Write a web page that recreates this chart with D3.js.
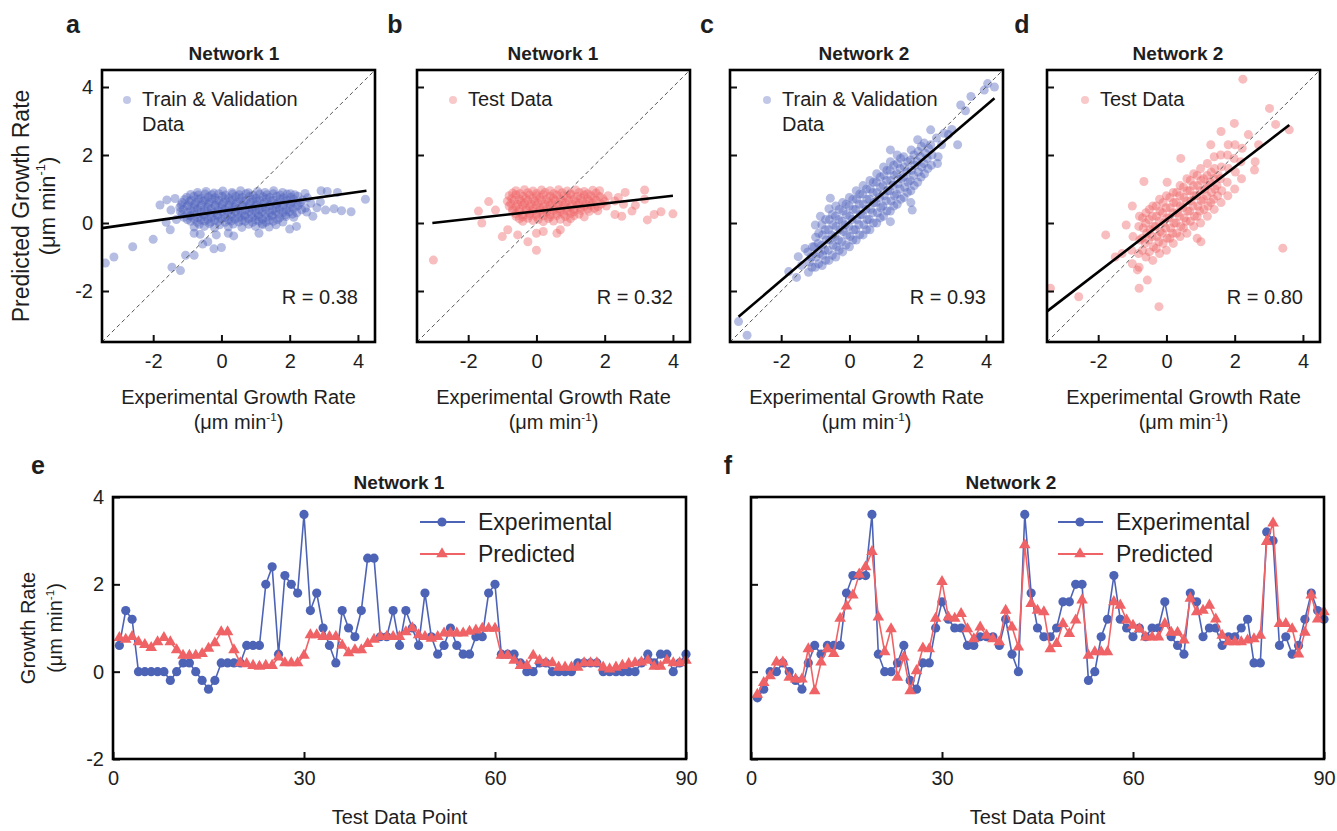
<!DOCTYPE html>
<html>
<head>
<meta charset="utf-8">
<script src="https://cdn.jsdelivr.net/npm/d3@7"></script>
<style>
  body { margin: 0; background: #fff; }
  text { font-family: "Liberation Sans", Arial, sans-serif; fill: #1e1e1e; }
</style>
</head>
<body>
<svg id="fig" width="1337" height="831"></svg>
<script>
// ---- data ----
var growthTicks = [-2, 0, 2, 4];
var pointTicks = [0, 30, 60, 90];
var scatterTitles = ["Network 1", "Network 1", "Network 2", "Network 2"];
var scatterLetters = ["a", "b", "c", "d"];
var legendLines = [["Train & Validation", "Data"], ["Test Data"], ["Train & Validation", "Data"], ["Test Data"]];
var rLabels = ["R = 0.38", "R = 0.32", "R = 0.93", "R = 0.80"];
// fitted line end points [x0, y0, x1, y1]
var fitLines = [[-3.5, -0.15, 4.25, 0.95], [-3.05, 0.0, 4.0, 0.8], [-3.25, -2.76, 4.25, 3.67], [-3.5, -2.6, 3.6, 2.88]];

// panel a: Network 1, train & validation
var trainN1 = [
  [-0.7,0.9],[-0.45,0.93],[-0.22,0.88],[0.04,0.94],[0.31,0.9],[0.56,0.95],[0.79,0.89],[1.06,0.93],[1.28,0.9],[1.53,0.95],[1.79,0.9],[2.02,0.86],
  [-1.02,0.76],[-0.81,0.79],[-0.6,0.73],[-0.38,0.77],[-0.19,0.74],[0.02,0.79],[0.21,0.74],[0.42,0.78],[0.6,0.75],[0.83,0.79],[1.01,0.73],[1.22,0.77],[1.41,0.75],[1.62,0.79],[1.81,0.74],[2.03,0.76],[2.24,0.79],[2.52,0.74],
  [-1.15,0.6],[-0.94,0.63],[-0.76,0.6],[-0.53,0.64],[-0.36,0.61],[-0.14,0.64],[0.06,0.6],[0.26,0.64],[0.44,0.61],[0.66,0.63],[0.86,0.6],[1.04,0.64],[1.26,0.61],[1.46,0.63],[1.64,0.59],[1.86,0.64],[2.06,0.61],[2.31,0.6],[2.62,0.58],
  [-1.22,0.46],[-1.01,0.49],[-0.79,0.45],[-0.61,0.48],[-0.4,0.46],[-0.18,0.5],[0.01,0.45],[0.22,0.48],[0.39,0.46],[0.61,0.49],[0.81,0.45],[0.99,0.48],[1.21,0.46],[1.39,0.49],[1.61,0.45],[1.79,0.48],[2.01,0.46],[2.22,0.49],[2.46,0.44],
  [-1.2,0.33],[-0.99,0.3],[-0.81,0.34],[-0.59,0.31],[-0.41,0.33],[-0.21,0.3],[0.02,0.34],[0.19,0.31],[0.41,0.33],[0.59,0.29],[0.82,0.34],[1.01,0.31],[1.19,0.33],[1.42,0.3],[1.59,0.34],[1.81,0.31],[1.99,0.33],[2.21,0.3],[2.5,0.32],
  [-1.1,0.17],[-0.91,0.2],[-0.69,0.16],[-0.51,0.19],[-0.29,0.17],[-0.11,0.2],[0.11,0.16],[0.29,0.19],[0.51,0.17],[0.69,0.2],[0.91,0.16],[1.09,0.19],[1.31,0.17],[1.49,0.2],[1.71,0.16],[1.89,0.19],[2.12,0.17],
  [-0.9,0.05],[-0.71,0.02],[-0.49,0.06],[-0.31,0.03],[-0.09,0.05],[0.11,0.02],[0.29,0.06],[0.51,0.03],[0.69,0.05],[0.91,0.02],[1.09,0.06],[1.31,0.03],[1.52,0.05],[1.8,0.03],
  [-0.9,0.84],[-0.68,0.82],[-0.48,0.85],[-0.28,0.83],[-0.08,0.86],[0.12,0.82],[0.33,0.85],[0.52,0.83],[0.72,0.86],[0.93,0.82],[1.12,0.85],[1.33,0.83],[1.52,0.86],[1.72,0.82],[1.92,0.85],[2.15,0.83],
  [-1.08,0.69],[-0.88,0.67],[-0.68,0.7],[-0.48,0.68],[-0.28,0.71],[-0.08,0.67],[0.12,0.7],[0.32,0.68],[0.52,0.71],[0.72,0.67],[0.92,0.7],[1.12,0.68],[1.32,0.71],[1.52,0.67],[1.72,0.7],[1.92,0.68],[2.12,0.7],[2.38,0.68],
  [-1.18,0.54],[-0.98,0.52],[-0.78,0.55],[-0.58,0.53],[-0.38,0.56],[-0.18,0.52],[0.02,0.55],[0.22,0.53],[0.42,0.56],[0.62,0.52],[0.82,0.55],[1.02,0.53],[1.22,0.56],[1.42,0.52],[1.62,0.55],[1.82,0.53],[2.02,0.56],[2.25,0.53],
  [-1.12,0.4],[-0.9,0.38],[-0.7,0.41],[-0.5,0.39],[-0.3,0.42],[-0.1,0.38],[0.1,0.41],[0.3,0.39],[0.5,0.42],[0.7,0.38],[0.9,0.41],[1.1,0.39],[1.3,0.42],[1.5,0.38],[1.7,0.41],[1.9,0.39],[2.1,0.42],[2.35,0.39],
  [-1.15,0.25],[-0.92,0.23],[-0.72,0.26],[-0.52,0.24],[-0.32,0.27],[-0.12,0.23],[0.08,0.26],[0.28,0.24],[0.48,0.27],[0.68,0.23],[0.88,0.26],[1.08,0.24],[1.28,0.27],[1.48,0.23],[1.68,0.26],[1.88,0.24],[2.08,0.26],
  [-1.0,0.1],[-0.8,0.12],[-0.6,0.09],[-0.4,0.11],[-0.2,0.08],[0.0,0.12],[0.2,0.09],[0.4,0.11],[0.6,0.08],[0.8,0.12],[1.0,0.09],[1.2,0.11],[1.4,0.08],[1.65,0.1],
  [-0.65,-0.04],[-0.35,-0.02],[-0.05,-0.05],[0.35,-0.03],[0.8,-0.04],[1.2,-0.02],[1.6,-0.05],
  [-0.8,-0.12],[-0.5,-0.1],[-0.2,-0.14],[0.2,-0.11],[0.6,-0.13],[1.0,-0.1],[1.4,-0.12],[2.0,-0.18],
  [-0.8,-0.3],[-0.62,-0.33],[-0.15,-0.35],[0.2,-0.3],[0.36,-0.38],[1.1,-0.3],[-0.4,-0.55],[0.0,-0.72],[-0.22,-0.76],[-0.55,-0.62],
  [-3.4,-1.18],[-3.15,-1.0],[-2.6,-0.7],[-2.0,-0.48],[-1.45,-1.3],[-1.2,-1.4],[-1.05,-0.95],[-0.8,-0.95],[-1.5,-0.2],[-1.62,0.02],
  [-1.8,0.53],[-1.6,0.68],[-1.48,0.38],[-1.32,0.1],[-1.36,0.72],[2.45,0.87],[2.92,0.95],[3.1,0.93],[3.4,0.9],[2.8,0.45],
  [3.05,0.38],[3.3,0.42],[3.52,0.36],[3.8,0.33],[4.22,0.7],[2.68,0.2],[2.9,0.62],[1.2,-0.05],[2.2,-0.1]
];

// panel b: Network 1, test
var testN1 = [
  [-0.6,0.95],[-0.35,0.98],[-0.1,0.94],[0.15,0.97],[0.4,0.95],[0.65,0.98],[0.9,0.94],[1.15,0.97],[1.4,0.93],[1.65,0.96],
  [-0.8,0.8],[-0.6,0.83],[-0.4,0.79],[-0.2,0.82],[0.0,0.8],[0.2,0.83],[0.4,0.79],[0.6,0.82],[0.8,0.8],[1.0,0.83],[1.2,0.79],[1.4,0.82],[1.6,0.8],[1.85,0.78],[2.1,0.8],
  [-0.85,0.64],[-0.65,0.67],[-0.45,0.63],[-0.25,0.66],[-0.05,0.64],[0.15,0.67],[0.35,0.63],[0.55,0.66],[0.75,0.64],[0.95,0.67],[1.15,0.63],[1.35,0.66],[1.55,0.64],[1.75,0.67],[2.0,0.63],[2.3,0.65],
  [-0.8,0.5],[-0.6,0.48],[-0.4,0.52],[-0.2,0.49],[0.0,0.51],[0.2,0.48],[0.4,0.52],[0.6,0.49],[0.8,0.51],[1.0,0.48],[1.2,0.52],[1.4,0.49],[1.6,0.51],[1.8,0.48],[2.05,0.5],
  [-0.7,0.35],[-0.5,0.33],[-0.3,0.37],[-0.1,0.34],[0.1,0.36],[0.3,0.33],[0.5,0.37],[0.7,0.34],[0.9,0.36],[1.1,0.33],[1.3,0.37],[1.55,0.34],[1.8,0.36],
  [-0.6,0.2],[-0.4,0.18],[-0.2,0.22],[0.0,0.19],[0.2,0.21],[0.4,0.18],[0.6,0.22],[0.85,0.19],[1.1,0.21],[1.4,0.18],
  [-0.4,0.05],[-0.1,0.07],[0.2,0.04],[0.5,0.06],[0.9,0.03],
  [-0.7,0.88],[-0.48,0.86],[-0.25,0.89],[0.0,0.87],[0.25,0.9],[0.5,0.86],[0.75,0.89],[1.0,0.87],[1.25,0.9],[1.5,0.86],[1.75,0.88],
  [-0.72,0.72],[-0.5,0.7],[-0.3,0.73],[-0.1,0.71],[0.1,0.74],[0.3,0.7],[0.5,0.73],[0.7,0.71],[0.9,0.74],[1.1,0.7],[1.3,0.73],[1.5,0.71],[1.7,0.73],[1.95,0.71],
  [-0.75,0.57],[-0.55,0.55],[-0.35,0.58],[-0.15,0.56],[0.05,0.59],[0.25,0.55],[0.45,0.58],[0.65,0.56],[0.85,0.59],[1.05,0.55],[1.25,0.58],[1.45,0.56],[1.65,0.58],[1.9,0.56],
  [-0.7,0.42],[-0.5,0.4],[-0.3,0.43],[-0.1,0.41],[0.1,0.44],[0.3,0.4],[0.5,0.43],[0.7,0.41],[0.9,0.44],[1.1,0.4],[1.3,0.43],[1.5,0.41],[1.7,0.43],
  [-0.6,0.27],[-0.4,0.25],[-0.2,0.28],[0.0,0.26],[0.2,0.29],[0.4,0.25],[0.6,0.28],[0.8,0.26],[1.0,0.28],[1.25,0.26],
  [-0.5,0.12],[-0.25,0.14],[0.05,0.11],[0.35,0.13],[0.7,0.11],[1.0,0.13],
  [-3.02,-1.09],[-1.6,0.0],[-1.4,0.63],[-1.2,0.38],[-1.0,-0.4],[-0.84,-0.2],[-0.55,-0.35],[-0.25,-0.55],[0.0,-0.8],[0.0,-0.3],
  [0.6,-0.3],[0.7,-0.2],[0.2,-0.25],[2.4,0.75],[2.55,0.55],[2.8,0.35],[2.9,0.52],[3.17,0.97],[3.17,0.7],[3.25,0.09],
  [3.45,0.25],[3.65,0.33],[4.0,0.27],[2.3,0.25],[2.5,0.2],[-1.7,0.35],[1.85,0.95],[2.6,0.9]
];

// panel c: Network 2, train & validation
var trainN2 = [
  [-1.2,-1.45],[-1.17,-1.15],[-1.22,-0.85],
  [-1.0,-1.3],[-0.98,-1.0],[-1.03,-0.7],[-0.99,-0.42],
  [-0.8,-1.25],[-0.78,-0.95],[-0.82,-0.66],[-0.79,-0.35],[-0.81,-0.05],
  [-0.6,-1.1],[-0.62,-0.8],[-0.58,-0.5],[-0.61,-0.2],[-0.59,0.1],[-0.6,0.42],
  [-0.4,-1.0],[-0.38,-0.7],[-0.42,-0.4],[-0.39,-0.1],[-0.41,0.2],[-0.4,0.5],
  [-0.2,-0.85],[-0.22,-0.55],[-0.18,-0.25],[-0.21,0.05],[-0.19,0.35],[-0.2,0.6],
  [0.0,-0.7],[0.02,-0.4],[-0.02,-0.1],[0.01,0.2],[-0.01,0.5],[0.0,0.75],
  [0.2,-0.5],[0.18,-0.2],[0.22,0.1],[0.19,0.4],[0.21,0.7],[0.2,0.95],
  [0.4,-0.35],[0.42,-0.05],[0.38,0.25],[0.41,0.55],[0.39,0.85],[0.4,1.1],
  [0.6,-0.2],[0.58,0.1],[0.62,0.4],[0.59,0.7],[0.61,1.0],[0.6,1.25],
  [0.8,0.0],[0.82,0.3],[0.78,0.6],[0.81,0.9],[0.79,1.2],[0.8,1.45],
  [1.0,0.2],[0.98,0.5],[1.02,0.8],[0.99,1.1],[1.01,1.4],[1.0,1.65],
  [1.2,0.35],[1.22,0.65],[1.18,0.95],[1.21,1.25],[1.19,1.55],[1.2,1.8],
  [1.4,0.55],[1.38,0.85],[1.42,1.15],[1.39,1.45],[1.41,1.75],[1.4,2.0],
  [1.6,0.75],[1.62,1.05],[1.58,1.35],[1.61,1.65],[1.59,1.95],
  [1.8,0.95],[1.78,1.25],[1.82,1.55],[1.79,1.85],[1.81,2.15],
  [2.0,1.2],[2.02,1.5],[1.98,1.8],[2.01,2.1],
  [2.2,1.45],[2.18,1.75],[2.22,2.05],[2.19,2.35],
  [2.4,1.7],[2.42,2.0],[2.38,2.3],
  [-1.1,-1.3],[-1.12,-1.0],[-1.08,-0.7],
  [-0.9,-1.2],[-0.88,-0.9],[-0.92,-0.6],[-0.9,-0.3],
  [-0.7,-1.1],[-0.72,-0.8],[-0.68,-0.5],[-0.71,-0.2],[-0.7,0.1],
  [-0.5,-0.95],[-0.48,-0.65],[-0.52,-0.35],[-0.49,-0.05],[-0.5,0.25],
  [-0.3,-0.8],[-0.32,-0.5],[-0.28,-0.2],[-0.31,0.1],[-0.3,0.4],
  [-0.1,-0.65],[-0.08,-0.35],[-0.12,-0.05],[-0.09,0.25],[-0.1,0.55],
  [0.1,-0.5],[0.12,-0.2],[0.08,0.1],[0.11,0.4],[0.1,0.7],
  [0.3,-0.35],[0.28,-0.05],[0.32,0.25],[0.29,0.55],[0.3,0.85],
  [0.5,-0.2],[0.52,0.1],[0.48,0.4],[0.51,0.7],[0.5,1.0],
  [0.7,0.0],[0.68,0.3],[0.72,0.6],[0.69,0.9],[0.7,1.2],
  [0.9,0.15],[0.92,0.45],[0.88,0.75],[0.91,1.05],[0.9,1.35],
  [1.1,0.35],[1.08,0.65],[1.12,0.95],[1.09,1.25],[1.1,1.55],
  [1.3,0.5],[1.32,0.8],[1.28,1.1],[1.31,1.4],[1.3,1.7],
  [1.5,0.7],[1.48,1.0],[1.52,1.3],[1.49,1.6],[1.5,1.9],
  [1.7,0.9],[1.72,1.2],[1.68,1.5],[1.71,1.8],
  [1.9,1.1],[1.88,1.4],[1.92,1.7],[1.89,2.0],
  [2.1,1.35],[2.12,1.65],[2.08,1.95],[2.11,2.25],
  [2.3,1.6],[2.28,1.9],[2.32,2.2],
  [-3.25,-2.9],[-3.0,-3.3],[-1.78,-1.43],[-1.5,-0.99],[-1.55,-1.6],[-1.4,-1.25],[-1.3,-0.75],[-1.0,-0.06],[-0.56,0.73],[-0.85,0.2],
  [1.2,0.04],[1.84,0.38],[1.8,0.6],[2.58,1.75],[2.6,1.95],[2.77,2.64],[2.38,2.74],[3.17,2.3],[3.26,3.47],[3.56,3.72],
  [3.95,3.91],[4.25,4.0],[4.05,4.1],[1.2,2.15],[2.9,2.6],[3.0,2.75],[2.7,2.3],[3.4,3.3],[2.55,2.5],[2.0,2.45]
];

// panel d: Network 2, test
var testN2 = [
  [-1.0,-1.2],[-1.02,-0.8],[-0.98,-0.4],
  [-0.8,-1.3],[-0.82,-0.9],[-0.78,-0.5],[-0.81,-0.1],[-0.79,0.2],
  [-0.6,-1.0],[-0.62,-0.6],[-0.58,-0.3],[-0.61,0.0],[-0.6,0.3],
  [-0.4,-1.1],[-0.38,-0.7],[-0.42,-0.4],[-0.39,-0.1],[-0.41,0.2],[-0.4,0.5],
  [-0.2,-0.9],[-0.22,-0.55],[-0.18,-0.25],[-0.21,0.05],[-0.19,0.35],[-0.2,0.7],
  [0.0,-0.8],[0.02,-0.45],[-0.02,-0.15],[0.01,0.15],[-0.01,0.45],[0.0,0.8],[0.02,1.2],
  [0.2,-0.6],[0.18,-0.3],[0.22,0.0],[0.19,0.3],[0.21,0.6],[0.2,0.9],
  [0.4,-0.4],[0.42,-0.1],[0.38,0.2],[0.41,0.5],[0.39,0.8],[0.4,1.1],
  [0.6,-0.3],[0.58,0.05],[0.62,0.35],[0.59,0.65],[0.61,0.95],[0.6,1.3],
  [0.8,-0.1],[0.82,0.2],[0.78,0.5],[0.81,0.8],[0.79,1.1],[0.8,1.45],
  [1.0,0.0],[0.98,0.35],[1.02,0.65],[0.99,0.95],[1.01,1.25],[1.0,1.6],
  [1.2,0.2],[1.22,0.5],[1.18,0.8],[1.21,1.1],[1.19,1.4],[1.2,1.75],
  [1.4,0.4],[1.38,0.7],[1.42,1.0],[1.39,1.3],[1.41,1.6],[1.4,1.95],
  [1.6,0.6],[1.62,0.95],[1.58,1.3],[1.61,1.65],[1.59,2.0],
  [1.8,0.8],[1.78,1.2],[1.82,1.6],[1.79,2.0],[1.81,2.3],
  [2.0,1.0],[2.02,1.5],[1.98,1.9],[2.01,2.3],
  [2.2,1.3],[2.18,1.8],[2.22,2.2],
  [-0.7,-0.8],[-0.72,-0.45],[-0.68,-0.15],[-0.7,0.15],
  [-0.5,-0.85],[-0.52,-0.5],[-0.48,-0.2],[-0.51,0.1],[-0.5,0.4],
  [-0.3,-0.75],[-0.28,-0.4],[-0.32,-0.1],[-0.29,0.2],[-0.3,0.5],
  [-0.1,-0.6],[-0.12,-0.3],[-0.08,0.0],[-0.11,0.3],[-0.1,0.6],
  [0.1,-0.45],[0.12,-0.15],[0.08,0.15],[0.11,0.45],[0.1,0.75],
  [0.3,-0.3],[0.28,0.0],[0.32,0.3],[0.29,0.6],[0.3,0.9],
  [0.5,-0.15],[0.52,0.15],[0.48,0.45],[0.51,0.75],[0.5,1.05],
  [0.7,0.05],[0.68,0.35],[0.72,0.65],[0.69,0.95],[0.7,1.25],
  [0.9,0.2],[0.92,0.5],[0.88,0.8],[0.91,1.1],[0.9,1.4],
  [1.1,0.4],[1.08,0.7],[1.12,1.0],[1.09,1.3],
  [1.3,0.6],[1.32,0.9],[1.28,1.2],[1.31,1.5],
  [1.5,0.8],[1.48,1.1],[1.52,1.4],
  [2.24,4.23],[3.02,3.37],[3.6,2.74],[3.41,-0.74],[-3.4,-1.92],[-2.57,-2.17],[-0.22,-2.46],[-0.8,-1.92],[-1.78,-0.35],[-1.18,-0.06],
  [-0.85,-1.38],[-0.56,-1.68],[-1.3,-0.9],[-1.5,-1.0],[2.6,1.8],[2.4,2.6],[2.7,2.3],[3.2,2.9],[1.6,2.69],[1.99,2.93],
  [0.42,1.9],[-0.66,1.22],[-1.0,0.5],[1.01,-0.55],[0.9,-0.45],[2.58,1.56],[1.3,2.3]
];

// panel e/f: test data points 1..90
var expN1 = [0.6,1.4,1.2,0,0,0,0,0,-0.2,0,0.2,0.2,0,-0.2,-0.4,-0.2,0.2,0.2,0.2,0.2,
  0.6,0.6,0.6,2.0,2.4,0.4,2.2,2.0,1.8,3.6,1.4,1.8,1.0,0.6,0.2,1.4,1.0,0.8,1.4,2.6,
  2.6,0.8,0.8,1.4,0.6,1.4,1.0,0.6,1.8,0.8,0.4,0.6,1.0,0.6,0.4,0.4,0.8,0.8,1.8,2.0,
  0.4,0.4,0.4,0.2,0,0,0.2,0.2,0,0,0,0,0.2,0.2,0.2,0.2,0,0,0,0,
  0,0,0.2,0.4,0.2,0.4,0.4,0,0.2,0.4];
var predN1 = [0.78,0.74,0.8,0.68,0.62,0.55,0.68,0.78,0.68,0.5,0.37,0.37,0.37,0.41,0.53,0.66,0.91,0.91,0.5,0.2,
  0.18,0.14,0.12,0.14,0.14,0.33,0.2,0.2,0.2,0.37,0.84,0.84,0.8,0.8,0.8,0.6,0.43,0.5,0.5,0.64,
  0.74,0.8,0.8,0.8,0.8,0.91,1.0,0.84,0.8,0.76,0.8,0.88,0.88,0.88,0.88,0.92,0.95,0.99,0.99,0.99,
  0.37,0.37,0.26,0.14,0.14,0.37,0.26,0.2,0.2,0.1,0.1,0.1,0.1,0.2,0.2,0.2,0.1,0.06,0.1,0.14,
  0.18,0.2,0.22,0.26,0.12,0.12,0.26,0.2,0.2,0.26];
var expN2 = [-0.6,-0.4,0,0,0.2,0,-0.2,-0.4,0.2,0.6,0.4,0.6,0.6,0.6,1.8,2.2,2.2,2.2,3.6,0.4,
  0,0,0.2,0.6,-0.2,-0.4,0.2,0.2,1.0,1.6,1.2,1.0,1.0,0.6,0.6,0.8,0.8,0.8,0.6,1.2,
  0.4,0,3.6,1.8,1.0,0.8,0.8,1.0,1.6,1.6,2.0,2.0,-0.2,0,0.8,1.2,2.2,1.2,1.0,0.8,
  1.0,0.8,1.0,1.0,1.6,0.8,0.6,0.4,1.8,1.6,0.8,1.0,1.0,0.6,0.8,0.8,1.0,1.2,0.2,0.2,
  3.2,3.0,0.6,0.8,0.4,0.6,1.2,1.8,1.4,1.2];
var predN2 = [-0.52,-0.25,-0.1,0.22,0.22,-0.13,-0.17,-0.17,0.52,-0.44,0.22,0.52,0.41,1.22,1.5,1.75,2.23,2.4,2.75,1.25,
  0.45,0.98,-0.13,0.33,-0.44,0.02,0.54,0.52,1.22,2.06,1.25,1.22,1.33,0.98,0.75,1.02,0.83,0.75,0.68,1.4,
  1.02,0.56,2.9,1.56,1.4,1.37,0.52,0.64,1.1,0.87,1.18,1.64,0.37,0.45,0.45,0.45,1.6,1.52,1.18,1.06,
  0.98,0.79,0.79,0.79,1.1,0.9,0.9,0.72,1.68,1.37,1.4,1.52,1.2,0.83,0.68,0.68,0.68,0.72,0.75,0.83,
  2.98,3.4,1.1,1.1,0.98,0.4,0.9,1.75,1.2,1.37];
var seriesNames = ["Experimental", "Predicted"];

// ---- drawing ----
var blue = "#4d63b6", red = "#ef6265";
var dotBlue = "#5467bd", dotRed = "#ee6668";
var svg = d3.select("#fig");
var defs = svg.append("defs");

function unitLabel(t, size) {
  t.append("tspan").text("(\u03bcm min");
  t.append("tspan").attr("dy", -size * 0.42).attr("font-size", size * 0.58).text("-1");
  t.append("tspan").attr("dy", size * 0.42).text(")");
}

function styleAxis(g, fontSize) {
  g.select(".domain").remove();
  g.selectAll(".tick line").attr("stroke", "#111").attr("stroke-width", 2);
  g.selectAll(".tick text").attr("font-size", fontSize).attr("fill", "#1e1e1e")
    .attr("font-family", "'Liberation Sans', Arial, sans-serif");
}

var scatterLeft = [102, 417, 730, 1047];
var scatterData = [trainN1, testN1, trainN2, testN2];
var scatterColor = [dotBlue, dotRed, dotBlue, dotRed];
var titleX = [234, 553, 864, 1178];
var letterX = [73, 395, 707, 1022];
var legendTextX = [142, 468, 782, 1100];

scatterData.forEach(function (pts, i) {
  var left = scatterLeft[i], W = 273, top = 70, H = 272;
  var x = d3.scaleLinear().domain([-3.5, 4.5]).range([left, left + W]);
  var y = d3.scaleLinear().domain([-3.5, 4.5]).range([top + H, top]);
  var g = svg.append("g");

  defs.append("clipPath").attr("id", "clip" + i)
    .append("rect").attr("x", left).attr("y", top).attr("width", W).attr("height", H);

  g.append("g").attr("clip-path", "url(#clip" + i + ")")
    .selectAll("circle").data(pts).join("circle")
    .attr("cx", function (d) { return x(d[0]); })
    .attr("cy", function (d) { return y(d[1]); })
    .attr("r", 4.5)
    .attr("fill", scatterColor[i])
    .attr("fill-opacity", 0.43);

  // y = x reference
  g.append("line")
    .attr("x1", x(-3.5)).attr("y1", y(-3.5)).attr("x2", x(4.5)).attr("y2", y(4.5))
    .attr("stroke", "#555").attr("stroke-width", 1).attr("stroke-dasharray", "4,3");

  var f = fitLines[i];
  g.append("line")
    .attr("x1", x(f[0])).attr("y1", y(f[1])).attr("x2", x(f[2])).attr("y2", y(f[3]))
    .attr("stroke", "#000").attr("stroke-width", 2.6);

  var ax = g.append("g").attr("transform", "translate(0," + (top + H) + ")")
    .call(d3.axisBottom(x).tickValues(growthTicks).tickSize(-7).tickPadding(12)
      .tickFormat(function (d) { return String(d); }));
  styleAxis(ax, 20);

  var ay = g.append("g").attr("transform", "translate(" + left + ",0)")
    .call(d3.axisLeft(y).tickValues(growthTicks).tickSize(-7).tickPadding(9)
      .tickFormat(function (d) { return i === 0 ? String(d) : ""; }));
  styleAxis(ay, 20);

  g.append("rect").attr("x", left).attr("y", top).attr("width", W).attr("height", H)
    .attr("fill", "none").attr("stroke", "#000").attr("stroke-width", 2.6);

  // legend
  g.append("circle").attr("cx", legendTextX[i] - 15).attr("cy", 100).attr("r", 4)
    .attr("fill", scatterColor[i]).attr("fill-opacity", 0.36);
  legendLines[i].forEach(function (s, k) {
    g.append("text").attr("x", legendTextX[i]).attr("y", 106 + k * 25)
      .attr("font-size", 20).text(s);
  });

  g.append("text").attr("x", left + W - 17).attr("y", 304)
    .attr("text-anchor", "end").attr("font-size", 20).text(rLabels[i]);

  g.append("text").attr("x", titleX[i]).attr("y", 60).attr("text-anchor", "middle")
    .attr("font-size", 19).attr("font-weight", "bold").text(scatterTitles[i]);
  g.append("text").attr("x", letterX[i]).attr("y", 33).attr("text-anchor", "middle")
    .attr("font-size", 25).attr("font-weight", "bold").text(scatterLetters[i]);

  var cx = left + W / 2;
  g.append("text").attr("x", cx).attr("y", 404).attr("text-anchor", "middle")
    .attr("font-size", 20).text("Experimental Growth Rate");
  g.append("text").attr("x", cx).attr("y", 429).attr("text-anchor", "middle")
    .attr("font-size", 20).call(unitLabel, 20);
});

// y label of panel a
svg.append("text").attr("transform", "translate(21,206) rotate(-90)")
  .attr("text-anchor", "middle").attr("dy", "0.35em").attr("font-size", 23)
  .text("Predicted Growth Rate");
svg.append("text").attr("transform", "translate(47,206) rotate(-90)")
  .attr("text-anchor", "middle").attr("dy", "0.35em").attr("font-size", 22)
  .call(unitLabel, 22);

// ---- panels e, f ----
var lineLeft = [113, 751];
var lineExp = [expN1, expN2];
var linePred = [predN1, predN2];
var lineTitles = ["Network 1", "Network 2"];
var lineLetters = ["e", "f"];
var lineTitleX = [399, 1011];
var lineLetterX = [38, 728];

lineLeft.forEach(function (left, i) {
  var W = 573, top = 497, H = 262;
  var x = d3.scaleLinear().domain([0, 90]).range([left, left + W]);
  var y = d3.scaleLinear().domain([-2, 4]).range([top + H, top]);
  var g = svg.append("g");

  var ax = g.append("g").attr("transform", "translate(0," + (top + H) + ")")
    .call(d3.axisBottom(x).tickValues(pointTicks).tickSize(-7).tickPadding(12)
      .tickFormat(function (d) { return String(d); }));
  styleAxis(ax, 20);
  var ay = g.append("g").attr("transform", "translate(" + left + ",0)")
    .call(d3.axisLeft(y).tickValues(growthTicks).tickSize(-7).tickPadding(9)
      .tickFormat(function (d) { return i === 0 ? String(d) : ""; }));
  styleAxis(ay, 20);

  var line = d3.line()
    .x(function (d, k) { return x(k + 1); })
    .y(function (d) { return y(d); });

  g.append("path").datum(lineExp[i]).attr("d", line)
    .attr("fill", "none").attr("stroke", blue).attr("stroke-width", 1.6);
  g.selectAll(".exp").data(lineExp[i]).join("circle").attr("class", "exp")
    .attr("cx", function (d, k) { return x(k + 1); })
    .attr("cy", function (d) { return y(d); })
    .attr("r", 4.6).attr("fill", blue);

  g.append("path").datum(linePred[i]).attr("d", line)
    .attr("fill", "none").attr("stroke", red).attr("stroke-width", 1.6);
  var tri = d3.symbol().type(d3.symbolTriangle).size(58);
  g.selectAll(".pred").data(linePred[i]).join("path").attr("class", "pred")
    .attr("transform", function (d, k) { return "translate(" + x(k + 1) + "," + y(d) + ")"; })
    .attr("d", tri).attr("fill", red);

  g.append("rect").attr("x", left).attr("y", top).attr("width", W).attr("height", H)
    .attr("fill", "none").attr("stroke", "#000").attr("stroke-width", 2.6);

  // legend
  var lx = left + 307;
  var ly = [522, 554];
  [blue, red].forEach(function (c, k) {
    g.append("line").attr("x1", lx).attr("x2", lx + 45).attr("y1", ly[k]).attr("y2", ly[k])
      .attr("stroke", c).attr("stroke-width", 1.8);
    if (k === 0) {
      g.append("circle").attr("cx", lx + 22).attr("cy", ly[k]).attr("r", 4.6).attr("fill", c);
    } else {
      g.append("path").attr("transform", "translate(" + (lx + 22) + "," + ly[k] + ")")
        .attr("d", tri).attr("fill", c);
    }
    g.append("text").attr("x", lx + 58).attr("y", ly[k] + 8).attr("font-size", 23)
      .text(seriesNames[k]);
  });

  g.append("text").attr("x", lineTitleX[i]).attr("y", 489).attr("text-anchor", "middle")
    .attr("font-size", 19).attr("font-weight", "bold").text(lineTitles[i]);
  g.append("text").attr("x", lineLetterX[i]).attr("y", 474).attr("text-anchor", "middle")
    .attr("font-size", 25).attr("font-weight", "bold").text(lineLetters[i]);
  g.append("text").attr("x", left + W / 2).attr("y", 824).attr("text-anchor", "middle")
    .attr("font-size", 20).text("Test Data Point");
});

svg.append("text").attr("transform", "translate(28,628) rotate(-90)")
  .attr("text-anchor", "middle").attr("dy", "0.35em").attr("font-size", 20)
  .text("Growth Rate");
svg.append("text").attr("transform", "translate(55,628) rotate(-90)")
  .attr("text-anchor", "middle").attr("dy", "0.35em").attr("font-size", 20)
  .call(unitLabel, 20);
</script>
</body>
</html>
